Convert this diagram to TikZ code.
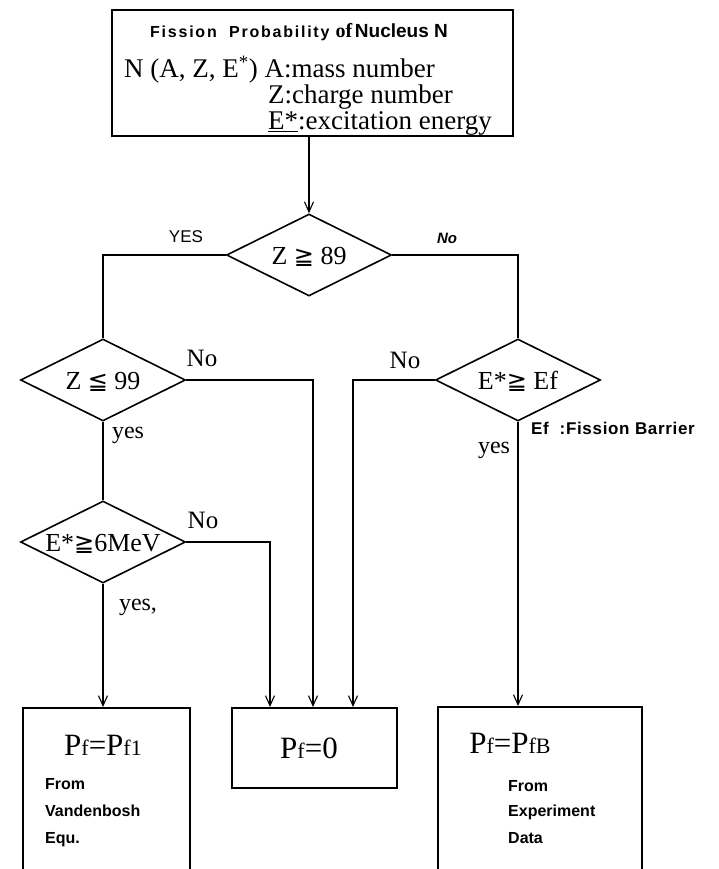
\documentclass[tikz,border=0pt]{standalone}
\usepackage{fontspec}
\setmainfont{Liberation Serif}
\newfontfamily\symf{DejaVu Sans}
\newfontfamily\lab{Liberation Sans}
\usetikzlibrary{shapes.geometric,arrows.meta}
\begin{document}
\begin{tikzpicture}[x=1pt,y=-1pt,
  line/.style={line width=1.4pt},
  thickline/.style={line width=2.6pt},
  arr/.style={line width=1.3pt,-{Straight Barb[length=10pt,width=9pt,line width=1.1pt]}},
  dia/.style={draw,diamond,shape aspect=2,line width=1.6pt,minimum width=165pt,minimum height=82pt,inner sep=0pt,text height=18.5pt,text depth=0pt,font=\fontsize{26}{28}\selectfont},
  box/.style={draw,rectangle,line width=2pt,inner sep=0pt},
  bsans/.style={inner sep=0pt,font=\lab\bfseries\fontsize{16}{18}\selectfont},
  ser/.style={inner sep=0pt,font=\fontsize{27}{29}\selectfont},
  lbl/.style={inner sep=0pt,font=\fontsize{24}{26}\selectfont},
  big/.style={inner sep=0pt,font=\fontsize{31}{33}\selectfont}]
\clip (0,0) rectangle (719,869);
\fill[white] (0,0) rectangle (719,869);
% top box
\node[box,line width=2.6pt,minimum width=401pt,minimum height=126pt] (top) at (312.5,73) {};
\node[bsans,anchor=base west] (title) at (150,38) {\addfontfeature{LetterSpace=11}Fission\ \ Probability\ \addfontfeature{LetterSpace=0}{\rmfamily\bfseries\fontsize{20}{22}\selectfont of}\,{\fontsize{19}{21}\selectfont Nucleus N}};
\node[ser,anchor=base west] (l1) at (124,78) {N (A, Z, E\textsuperscript{*}) A:mass number};
\node[ser,anchor=base west] (l2) at (268,104) {Z:charge number};
\node[ser,anchor=base west] (l3) at (268,130) {\underline{E*}:excitation energy};
% diamonds
\node[dia] (d1) at (309,255) {Z {\symf\fontsize{24}{26}\selectfont ≧} 89};
\node[dia] (d2) at (103,380) {Z {\symf\fontsize{24}{26}\selectfont ≦} 99};
\node[dia] (d3) at (103,542) {E*{\symf\fontsize{24}{26}\selectfont ≧}6MeV};
\node[dia] (d4) at (518,380) {E*{\symf\fontsize{24}{26}\selectfont ≧} Ef};
% result boxes
\node[box,minimum width=167pt,minimum height=200pt] (b1) at (106.5,808) {};
\node[box,minimum width=165pt,minimum height=80pt] (b2) at (314.5,748) {};
\node[box,minimum width=204pt,minimum height=200pt] (b3) at (540,807) {};
% box texts
\node[big] (p1) at (103,745) {P{\fontsize{22}{22}\selectfont f}=P{\fontsize{22}{22}\selectfont f1}};
\node[bsans,anchor=base west] (f1) at (45,789) {From};
\node[bsans,anchor=base west] (f2) at (45,816) {Vandenbosh};
\node[bsans,anchor=base west] (f3) at (45,843) {Equ.};
\node[big] (p2) at (309,748) {P{\fontsize{22}{22}\selectfont f}=0};
\node[big] (p3) at (510,743) {P{\fontsize{22}{22}\selectfont f}=P{\fontsize{22}{22}\selectfont fB}};
\node[bsans,anchor=base west] (g1) at (508,791) {From};
\node[bsans,anchor=base west] (g2) at (508,816) {Experiment};
\node[bsans,anchor=base west] (g3) at (508,843) {Data};
% connectors
\draw[arr] (d1.north |- top.south) -- (d1.north);
\draw[line] (d1.west) -| (d2.north);
\draw[thickline] (d1.east) -| (d4.north);
\draw[thickline] (d2.south) -- (d3.north);
\draw[arr] (d2.east) -| ([xshift=-1.5pt]b2.north);
\draw[arr] (d3.east) -| ([xshift=-44.5pt]b2.north);
\draw[arr] (d3.south) -- (d3.south |- b1.north);
\draw[arr,line width=2.2pt] (d4.west) -| ([xshift=38.5pt]b2.north);
\draw[arr] (d4.south) -- (d4.south |- b3.north);
% labels
\node[inner sep=0pt,font=\lab\fontsize{17}{19}\selectfont] (yes1) at (186,237) {YES};
\node[inner sep=0pt,font=\lab\bfseries\itshape\fontsize{15}{17}\selectfont] (no1) at (447,238) {No};
\node[lbl,font=\fontsize{25}{27}\selectfont] (no2) at (202,358) {No};
\node[lbl] (yes2) at (128,435) {yes};
\node[lbl,font=\fontsize{25}{27}\selectfont] (no3) at (203,520) {No};
\node[lbl] (yes3) at (138,607) {yes,};
\node[lbl,font=\fontsize{25}{27}\selectfont] (no4) at (405,360) {No};
\node[lbl] (yes4) at (494,450) {yes};
\node[bsans,anchor=west,font=\lab\bfseries\fontsize{17}{19}\selectfont] (ef) at (531,428) {\addfontfeature{LetterSpace=4}Ef\ \ :Fission Barrier};
\end{tikzpicture}
\end{document}
